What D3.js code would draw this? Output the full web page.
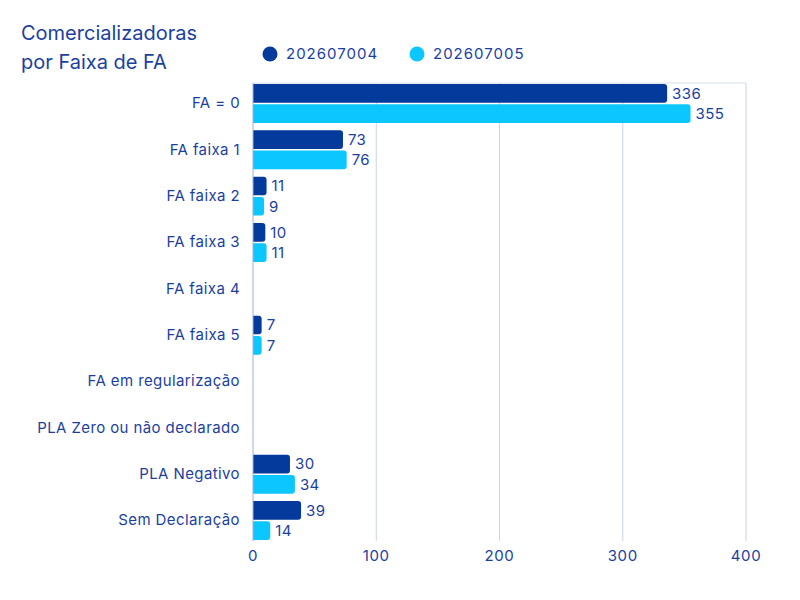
<!DOCTYPE html>
<html>
<head>
<meta charset="utf-8">
<script src="https://d3js.org/d3.v7.min.js"></script>
<style>
    body { margin: 0; background: #ffffff; }
    svg text { font-family: Inter, "Noto Sans", sans-serif; fill: #1b3f9f; }
</style>
</head>
<body>
<script>
    var categories = ["FA = 0", "FA faixa 1", "FA faixa 2", "FA faixa 3", "FA faixa 4",
        "FA faixa 5", "FA em regularização", "PLA Zero ou não declarado", "PLA Negativo", "Sem Declaração"];
    var seriesNames = ["202607004", "202607005"];
    var values2026004 = [336, 73, 11, 10, null, 7, null, null, 30, 39];
    var values2026005 = [355, 76, 9, 11, null, 7, null, null, 34, 14];
    var xTicks = [0, 100, 200, 300, 400];
    var colors = ["#043a9c", "#0bc6ff"];

    var svg = d3.select("body").append("svg")
        .attr("width", 800)
        .attr("height", 600);

    var margin = { top: 83, right: 54, bottom: 60, left: 253 },
        height = 458;

    var x = d3.scaleLinear().domain([0, 400]).range([0, 493]);
    var y = d3.scaleBand().domain(categories).range([1, 457])
        .paddingInner(0.16).paddingOuter(0);
    var y1 = d3.scaleBand().domain(seriesNames).range([0, y.bandwidth()]).paddingInner(0.08);

    var g = svg.append("g").attr("transform", "translate(" + margin.left + "," + margin.top + ")");

    // grid
    g.selectAll(".grid").data(xTicks.slice(1)).enter().append("line")
        .attr("x1", d => x(d)).attr("x2", d => x(d))
        .attr("y1", 0).attr("y2", height)
        .attr("stroke", "#c9d4e8").attr("stroke-width", 1);
    g.append("line").attr("x1", 0).attr("x2", x(400)).attr("y1", 0).attr("y2", 0)
        .attr("stroke", "#d6deee").attr("stroke-width", 1);

    var rows = categories.map(function(c, i) {
        return { cat: c, vals: [values2026004[i], values2026005[i]] };
    });

    var row = g.selectAll(".row").data(rows).enter().append("g")
        .attr("transform", d => "translate(0," + y(d.cat) + ")");

    function barPath(w, h) {
        var r = Math.min(3, w / 2);
        return "M0,0H" + (w - r) + "Q" + w + ",0 " + w + "," + r +
            "V" + (h - r) + "Q" + w + "," + h + " " + (w - r) + "," + h + "H0Z";
    }

    row.each(function(d) {
        var sel = d3.select(this);
        d.vals.forEach(function(v, k) {
            if (v == null) return;
            var yy = y1(seriesNames[k]);
            sel.append("path")
                .attr("transform", "translate(0," + yy + ")")
                .attr("d", barPath(x(v), y1.bandwidth()))
                .attr("fill", colors[k]);
            sel.append("text")
                .attr("x", x(v) + 5)
                .attr("y", yy + y1.bandwidth() / 2)
                .attr("dy", "0.36em")
                .style("font-size", "15px")
                .style("letter-spacing", "0.4px")
                .text(v);
        });
    });

    // baseline
    g.append("line").attr("x1", 0).attr("x2", 0).attr("y1", 0).attr("y2", height)
        .attr("stroke", "#9fb0d0").attr("stroke-width", 1);

    // category labels
    g.selectAll(".cat").data(categories).enter().append("text")
        .attr("x", -13)
        .attr("y", d => y(d) + y.bandwidth() / 2)
        .attr("dy", "0.33em")
        .attr("text-anchor", "end")
        .style("font-size", "15px")
        .style("letter-spacing", "0.4px")
        .text(d => d);

    // x axis labels
    g.selectAll(".xt").data(xTicks).enter().append("text")
        .attr("x", d => x(d))
        .attr("y", height + 20)
        .attr("text-anchor", "middle")
        .style("font-size", "15px")
        .style("letter-spacing", "0.6px")
        .text(d => d);

    // title
    svg.append("text").attr("x", 21).attr("y", 40).style("font-size", "20px")
        .text("Comercializadoras");
    svg.append("text").attr("x", 21).attr("y", 69).style("font-size", "20px")
        .text("por Faixa de FA");

    // legend
    var legX = [270, 417];
    var leg = svg.selectAll(".leg").data(seriesNames).enter().append("g")
        .attr("transform", (d, i) => "translate(" + legX[i] + ",54)");
    leg.append("circle").attr("r", 7.5).attr("fill", (d, i) => colors[i]);
    leg.append("text").attr("x", 16).attr("dy", "0.36em").style("font-size", "15px")
        .style("letter-spacing", "1px").text(d => d);
</script>
</body>
</html>
